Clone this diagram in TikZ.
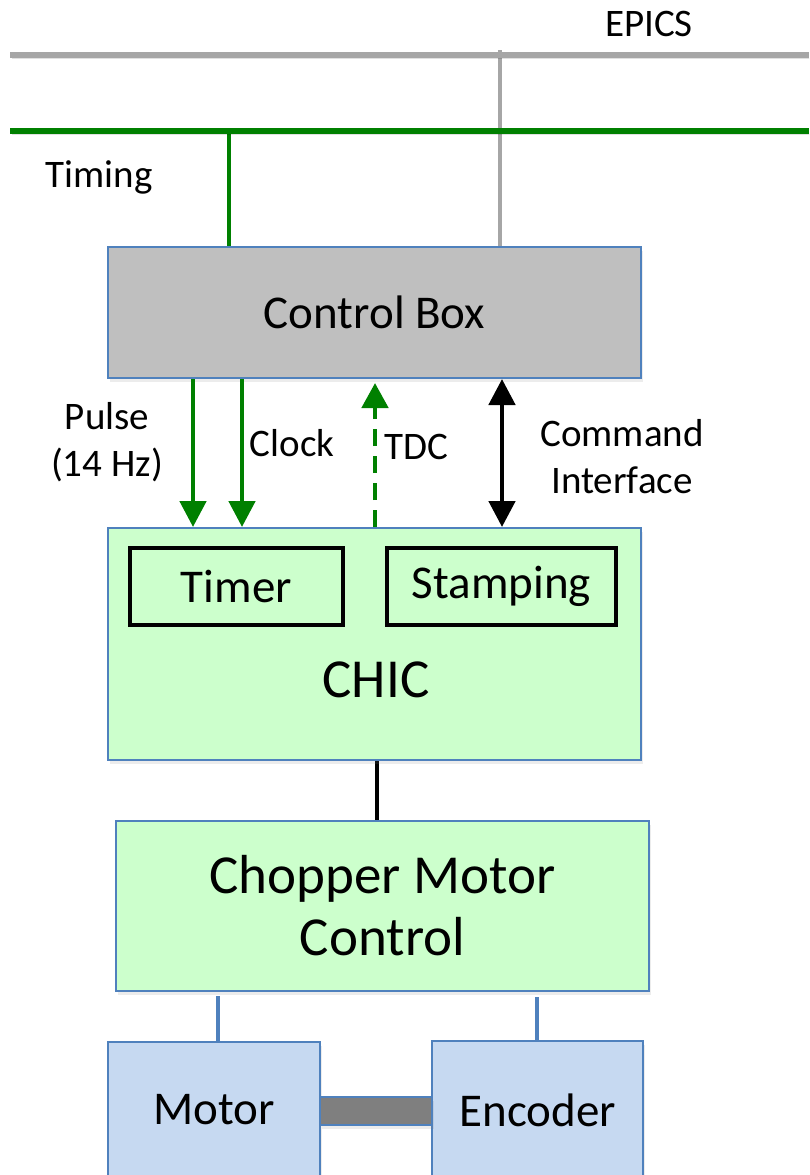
\documentclass[tikz,border=0pt]{standalone}
\usepackage{fontspec}
\setmainfont{Carlito}
\usetikzlibrary{arrows.meta,shadows,backgrounds}
\definecolor{busgray}{HTML}{A6A6A6}
\definecolor{busgreen}{HTML}{008000}
\definecolor{boxgray}{HTML}{BFBFBF}
\definecolor{boxblue}{HTML}{4F81BD}
\definecolor{chicgreen}{HTML}{CCFFCC}
\definecolor{mechblue}{HTML}{C6D9F1}
\definecolor{shaftgray}{HTML}{7F7F7F}
\tikzset{
  shade/.style={drop shadow={opacity=0.15,shadow xshift=2pt,shadow yshift=-4pt}},
  lineshade/.style={preaction={draw=black,opacity=0.12,transform canvas={xshift=1.5pt,yshift=-3pt}}},
  blockbox/.style={draw=boxblue,line width=2pt,rectangle,inner sep=0pt,align=center,shade},
  subbox/.style={draw=black,line width=3.4pt,fill=chicgreen,rectangle,inner sep=0pt},
  label/.style={inner sep=0pt,align=center,font=\fontsize{39}{47}\selectfont},
  bigtext/.style={font=\fontsize{47}{56}\selectfont},
  hugetext/.style={font=\fontsize{55}{64}\selectfont},
  bus/.style={line width=5.5pt,lineshade},
  tap/.style={line width=4.8pt,lineshade},
  garrow/.style={busgreen,line width=4.8pt,-{Triangle[width=26pt,length=26pt]}},
  barrow/.style={black,line width=4.8pt,{Triangle[width=26pt,length=26pt]}-{Triangle[width=26pt,length=26pt]}},
  tdcarrow/.style={busgreen,line width=4.8pt,dash pattern=on 17pt off 10pt,-{Triangle[width=26pt,length=25pt]}},
  wire/.style={line width=4.8pt,lineshade},
}
\begin{document}
\begin{tikzpicture}[x=1pt,y=-1pt]
\useasboundingbox (0,0) rectangle (809,1175);
\clip (0,0) rectangle (809,1175);

% network buses
\coordinate (epicsL) at (10,55);
\coordinate (epicsR) at (809,55);
\coordinate (timL) at (10,131);
\coordinate (timR) at (809,131);
\draw[bus,busgray] (epicsL) -- (epicsR);
\draw[bus,busgreen] (timL) -- (timR);
\node[label] (epics) at (649,24) {EPICS};
\node[label] (timing) at (99,177) {Timing};

% blocks
\node[blockbox,fill=boxgray,minimum width=533pt,minimum height=131pt,bigtext] (cb) at (374.5,312.5) {Control Box};
\node[blockbox,fill=chicgreen,minimum width=533pt,minimum height=232pt] (chic) at (374.5,644) {};
\node[hugetext,inner sep=0pt] (chictext) at (376,680) {CHIC};
\node[subbox,minimum width=213pt,minimum height=77pt,bigtext] (timer) at (236.5,586.5) {Timer};
\node[subbox,minimum width=229pt,minimum height=77pt,bigtext] (stamp) at (501.5,586.5) {Stamping};
\node[blockbox,fill=chicgreen,minimum width=533pt,minimum height=170pt,hugetext] (cmc) at (382.5,906) {Chopper Motor\\[-2pt]Control};
\node[blockbox,fill=mechblue,minimum width=212pt,minimum height=200pt,anchor=north] (motor) at (214,1041) {};
\node[bigtext,inner sep=0pt] (motortext) at (214,1110) {Motor};
\node[blockbox,fill=mechblue,minimum width=211pt,minimum height=200pt,anchor=north] (enc) at (537.5,1040) {};
\node[bigtext,inner sep=0pt] (enctext) at (538,1110) {Encoder};
\node[draw=boxblue,line width=2pt,fill=shaftgray,rectangle,inner sep=0pt,minimum width=112pt,minimum height=28pt,shade] (shaft) at (376,1111) {};

% plain links sit behind the blocks
\coordinate (tapT) at (229,131);
\coordinate (tapE) at (500,50);
\coordinate (xLink) at (377,0);
\coordinate (xMot) at (218,0);
\coordinate (xEnc) at (537,0);
\begin{pgfonlayer}{background}
  \draw[tap,busgreen] (tapT) -- (tapT |- cb.north);
  \draw[tap,busgray] (tapE) -- (tapE |- cb.north);
  \draw[wire,black] (chic.south -| xLink) -- (cmc.north -| xLink);
  \draw[wire,boxblue] ([yshift=-4pt]cmc.south -| xMot) -- (motor.north -| xMot);
  \draw[wire,boxblue] ([yshift=-5pt]cmc.south -| xEnc) -- (enc.north -| xEnc);
\end{pgfonlayer}

% signals between control box and CHIC
\coordinate (xPulse) at (193,0);
\coordinate (xClock) at (242,0);
\coordinate (xTdc) at (375,0);
\coordinate (xCmd) at (502,0);
\coordinate (tdcTip) at (375,383);
\draw[garrow] (cb.south -| xPulse) -- (chic.north -| xPulse);
\draw[garrow] (cb.south -| xClock) -- (chic.north -| xClock);
\draw[tdcarrow] (chic.north -| xTdc) -- (tdcTip);
\draw[barrow] (cb.south -| xCmd) -- (chic.north -| xCmd);

\node[label] (pulse) at (107,442) {Pulse\\(14 Hz)};
\node[label] (clock) at (292,443) {Clock};
\node[label] (tdc) at (416,447) {TDC};
\node[label] (cmd) at (622,457) {Command\\Interface};
\end{tikzpicture}
\end{document}
